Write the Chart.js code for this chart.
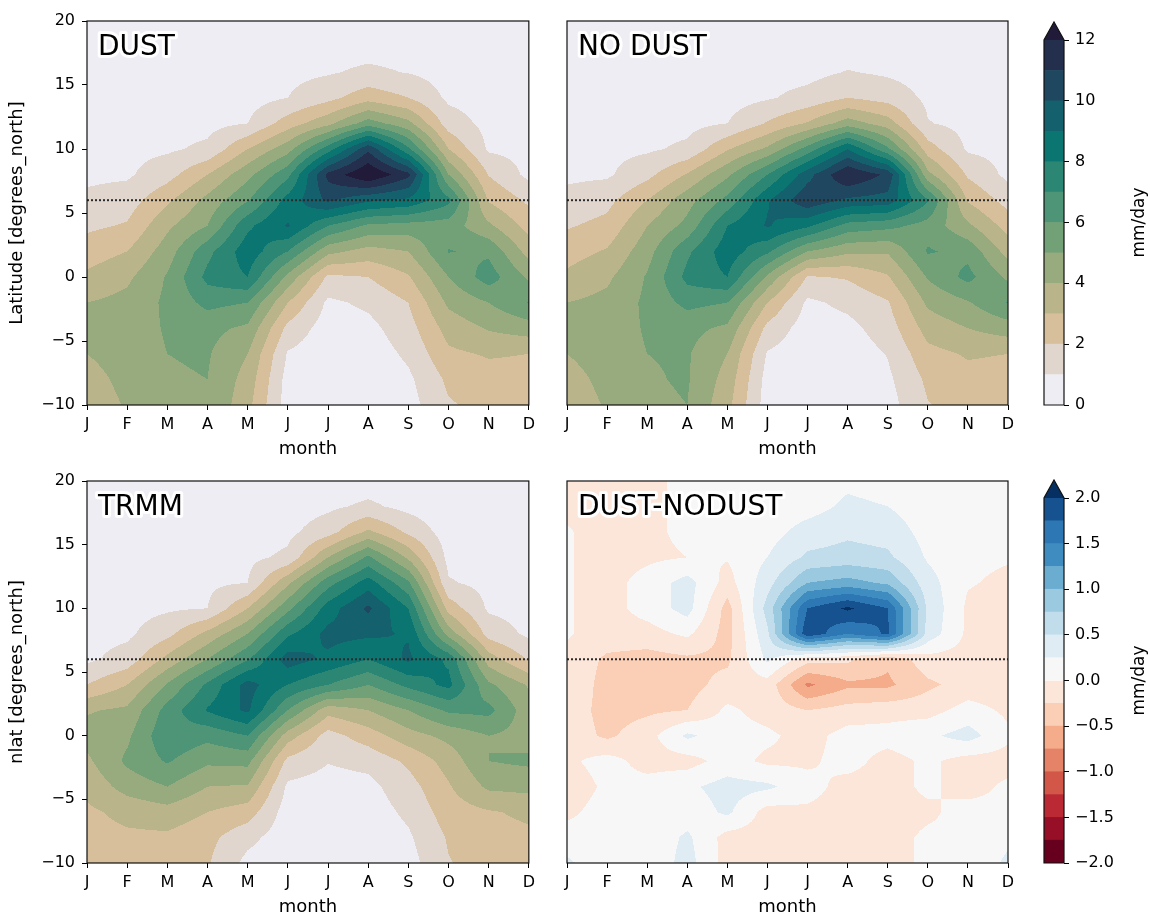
<!DOCTYPE html>
<html>
<head>
<meta charset="utf-8">
<script src="https://cdn.jsdelivr.net/npm/chart.js@4.4.1/dist/chart.umd.min.js"></script>
<style>
  body { margin: 0; background: #fff; width: 1150px; height: 918px; position: relative; overflow: hidden; }
  canvas { position: absolute; }
</style>
</head>
<body>
<canvas id="dust" width="540" height="460" style="left:0;top:0"></canvas>
<canvas id="nodust" width="500" height="460" style="left:540px;top:0"></canvas>
<canvas id="trmm" width="540" height="458" style="left:0;top:460px"></canvas>
<canvas id="diff" width="500" height="458" style="left:540px;top:460px"></canvas>
<canvas id="cbRain" width="110" height="460" style="left:1040px;top:0"></canvas>
<canvas id="cbDiff" width="110" height="458" style="left:1040px;top:460px"></canvas>
<script>
const monthLabels = ['J', 'F', 'M', 'A', 'M', 'J', 'J', 'A', 'S', 'O', 'N', 'D'];
const latitudes = [20, 18, 16, 14, 12, 10, 8, 6, 4, 2, 0, -2, -4, -6, -8, -10];
const dividerLat = 6;

const rainLevels = [0, 1, 2, 3, 4, 5, 6, 7, 8, 9, 10, 11, 12];
const diffLevels = [-2, -1.75, -1.5, -1.25, -1, -0.75, -0.5, -0.25, 0, 0.25, 0.5, 0.75, 1, 1.25, 1.5, 1.75, 2];

// mm/day, one row per latitude (20N down to 10S), one column per month
const dustRain = [
  [0.2, 0.2, 0.2, 0.25, 0.3, 0.35, 0.4, 0.3, 0.35, 0.3, 0.2, 0.2],
  [0.3, 0.3, 0.35, 0.4, 0.45, 0.5, 0.6, 0.6, 0.6, 0.45, 0.3, 0.3],
  [0.4, 0.4, 0.5, 0.55, 0.55, 0.75, 0.9, 1.2, 0.95, 0.6, 0.45, 0.4],
  [0.5, 0.55, 0.6, 0.6, 0.6, 1.0, 1.7, 2.6, 2.0, 0.8, 0.6, 0.5],
  [0.6, 0.65, 0.7, 0.7, 1.0, 2.5, 3.7, 5.5, 4.3, 1.5, 0.7, 0.6],
  [0.7, 0.75, 0.85, 1.2, 3.0, 4.6, 7.5, 10.8, 7.2, 3.0, 0.85, 0.7],
  [0.8, 0.85, 1.6, 3.0, 4.7, 6.7, 11.3, 13.0, 11.3, 5.0, 1.95, 0.75],
  [1.2, 1.5, 2.8, 4.3, 5.9, 8.4, 10.2, 9.2, 8.8, 7.3, 2.9, 1.8],
  [1.8, 2.1, 3.8, 5.0, 7.8, 9.1, 7.0, 5.8, 5.6, 5.5, 4.2, 2.6],
  [2.5, 3.0, 4.5, 6.7, 8.6, 7.0, 4.3, 3.6, 4.0, 6.05, 5.8, 3.6],
  [3.2, 3.8, 5.1, 7.3, 8.0, 4.7, 1.8, 2.0, 2.9, 5.0, 6.5, 4.8],
  [4.0, 4.3, 5.2, 6.3, 6.0, 3.0, 0.8, 1.2, 2.0, 4.2, 5.0, 6.05],
  [4.4, 4.5, 5.1, 5.3, 4.8, 1.7, 0.5, 0.7, 1.6, 3.4, 4.1, 4.5],
  [4.0, 4.5, 5.0, 5.1, 4.0, 0.9, 0.4, 0.4, 1.2, 2.8, 3.1, 3.0],
  [3.6, 4.3, 4.9, 5.0, 3.6, 0.6, 0.35, 0.3, 0.8, 2.2, 2.6, 2.6],
  [3.4, 4.1, 4.8, 5.0, 3.3, 0.5, 0.3, 0.3, 0.6, 1.9, 2.3, 2.4]
];

const noDustRain = [
  [0.2, 0.2, 0.2, 0.25, 0.3, 0.35, 0.4, 0.3, 0.35, 0.3, 0.2, 0.2],
  [0.3, 0.3, 0.35, 0.4, 0.45, 0.5, 0.55, 0.55, 0.55, 0.45, 0.3, 0.3],
  [0.4, 0.4, 0.5, 0.55, 0.55, 0.7, 0.7, 1.05, 0.85, 0.6, 0.45, 0.4],
  [0.5, 0.55, 0.6, 0.6, 0.6, 0.9, 1.3, 2.0, 1.6, 0.8, 0.6, 0.5],
  [0.6, 0.65, 0.7, 0.7, 1.0, 2.1, 3.1, 4.5, 3.5, 1.05, 0.7, 0.6],
  [0.7, 0.75, 0.85, 1.2, 2.9, 4.2, 6.4, 9.0, 6.2, 2.5, 0.85, 0.7],
  [0.8, 0.85, 1.7, 3.1, 4.8, 7.0, 9.6, 12.0, 10.8, 4.3, 1.85, 0.75],
  [1.3, 1.7, 3.0, 4.6, 6.3, 8.9, 10.8, 9.8, 9.6, 7.1, 2.9, 1.6],
  [1.9, 2.3, 4.0, 5.3, 8.0, 9.1, 8.2, 6.6, 6.3, 5.6, 4.2, 2.6],
  [2.6, 3.1, 4.6, 6.8, 8.6, 7.2, 5.0, 4.2, 4.1, 6.1, 5.7, 3.6],
  [3.2, 3.8, 5.1, 7.3, 8.0, 4.8, 1.9, 2.1, 2.9, 5.1, 6.3, 4.8],
  [4.0, 4.3, 5.2, 6.3, 6.0, 3.0, 0.8, 1.25, 1.9, 4.2, 4.9, 6.05],
  [4.4, 4.5, 5.1, 5.3, 4.8, 1.7, 0.5, 0.7, 1.5, 3.4, 4.0, 4.5],
  [4.0, 4.5, 5.0, 5.1, 4.0, 0.9, 0.4, 0.4, 1.05, 2.7, 3.1, 3.0],
  [3.6, 4.3, 4.9, 5.1, 3.6, 0.6, 0.35, 0.3, 0.8, 2.2, 2.7, 2.6],
  [3.4, 4.1, 4.8, 5.0, 3.3, 0.5, 0.3, 0.3, 0.6, 1.95, 2.4, 2.4]
];

const trmmRain = [
  [0.2, 0.2, 0.2, 0.25, 0.3, 0.35, 0.4, 0.5, 0.35, 0.25, 0.2, 0.2],
  [0.25, 0.25, 0.3, 0.35, 0.4, 0.5, 0.8, 1.2, 0.7, 0.35, 0.3, 0.3],
  [0.3, 0.3, 0.4, 0.5, 0.55, 0.75, 1.6, 3.2, 1.8, 0.5, 0.4, 0.35],
  [0.4, 0.45, 0.55, 0.65, 0.75, 1.2, 4.0, 6.2, 3.8, 0.7, 0.55, 0.45],
  [0.5, 0.55, 0.7, 0.8, 1.0, 3.8, 6.6, 8.5, 6.2, 1.1, 0.7, 0.55],
  [0.6, 0.65, 0.85, 1.0, 3.0, 5.7, 8.5, 10.2, 8.0, 2.6, 0.85, 0.65],
  [0.7, 0.8, 1.7, 3.3, 5.0, 7.8, 9.3, 9.2, 8.9, 4.6, 1.6, 0.8],
  [0.8, 1.4, 3.3, 5.0, 6.9, 9.5, 8.8, 8.0, 9.2, 7.8, 3.5, 1.9],
  [2.0, 3.0, 5.1, 7.2, 9.4, 8.0, 7.0, 6.0, 7.3, 8.3, 5.2, 3.9],
  [3.9, 4.2, 6.4, 8.1, 9.2, 6.0, 3.4, 4.0, 5.0, 6.2, 6.3, 4.4],
  [4.4, 4.8, 6.8, 6.3, 7.0, 3.5, 1.6, 2.5, 3.6, 4.3, 5.0, 4.6],
  [3.8, 5.2, 6.1, 5.2, 5.3, 1.7, 1.05, 1.3, 2.2, 3.4, 5.0, 5.2],
  [3.3, 4.4, 5.0, 4.0, 3.9, 0.8, 0.6, 0.7, 1.6, 2.9, 4.2, 4.3],
  [2.8, 3.3, 3.6, 3.0, 2.5, 0.5, 0.45, 0.5, 1.2, 2.5, 2.9, 3.2],
  [2.6, 2.8, 2.8, 2.3, 1.3, 0.4, 0.4, 0.4, 0.85, 2.1, 2.6, 2.8],
  [2.5, 2.6, 2.5, 2.1, 0.7, 0.35, 0.35, 0.35, 0.6, 1.95, 2.4, 2.6]
];

const dustMinusNoDust = [
  [-0.1, -0.1, -0.05, 0.05, 0.05, 0.05, 0.1, 0.2, 0.15, 0.05, 0.05, 0.05],
  [-0.05, -0.1, -0.05, 0.05, 0.05, 0.1, 0.15, 0.3, 0.25, 0.1, 0.05, 0.05],
  [0.02, -0.1, -0.05, 0.05, 0.05, 0.15, 0.35, 0.45, 0.4, 0.15, 0.05, 0.02],
  [0.02, -0.1, -0.05, 0.0, 0.02, 0.25, 0.55, 0.6, 0.55, 0.22, 0.05, 0.02],
  [0.02, -0.1, 0.1, 0.35, -0.1, 0.4, 1.0, 1.1, 0.95, 0.35, 0.02, -0.05],
  [0.02, -0.1, 0.1, 0.35, -0.35, 0.6, 1.75, 2.05, 1.75, 0.45, -0.05, -0.1],
  [0.02, -0.1, -0.1, 0.05, -0.35, 0.45, 1.95, 1.5, 1.8, 0.4, -0.05, -0.1],
  [-0.05, -0.3, -0.35, -0.3, -0.3, 0.3, -0.15, -0.2, -0.45, -0.1, -0.1, -0.1],
  [-0.05, -0.35, -0.4, -0.35, -0.15, -0.1, -0.8, -0.55, -0.55, -0.3, -0.15, -0.15],
  [-0.1, -0.35, -0.3, -0.25, 0.05, -0.1, -0.25, -0.15, -0.1, -0.1, 0.1, -0.05],
  [-0.1, -0.3, -0.1, 0.3, 0.1, 0.05, -0.1, 0.1, 0.1, 0.2, 0.35, 0.05],
  [-0.05, 0.1, -0.1, -0.1, 0.1, -0.05, -0.05, 0.1, -0.1, 0.05, -0.1, -0.1],
  [-0.15, 0.05, 0.1, 0.2, 0.35, 0.3, 0.1, -0.1, -0.1, 0.05, -0.1, 0.05],
  [-0.05, 0.1, 0.05, 0.1, 0.3, -0.1, -0.05, -0.1, -0.1, -0.05, 0.1, 0.05],
  [0.1, 0.05, 0.05, 0.3, -0.1, -0.1, -0.1, -0.05, -0.1, 0.05, 0.05, 0.2],
  [0.3, 0.05, 0.05, 0.35, -0.1, -0.1, -0.1, -0.05, -0.1, 0.05, 0.05, 0.3]
];

// one colour per band, last one is the "over" colour of the extend triangle
const rainColors = ['#eeedf3', '#e1d6cd', '#d8bf9c', '#bab48a', '#98ab7e', '#72a077', '#4e9477',
  '#2b8674', '#0b7571', '#14606d', '#1f475f', '#232f4c', '#211a39'];
const diffColors = ['#67001f', '#960f27', '#bb2a34', '#d25749', '#e58368', '#f5ac8b', '#fbceb6', '#fbe6d9',
  '#f7f7f7', '#dfecf3', '#c1ddec', '#9ac9e0', '#6bacd1', '#3f8dc0', '#2e77b5', '#175290', '#053061'];

const fontFamily = '"DejaVu Sans", sans-serif';
const tickFont = { family: fontFamily, size: 16 };
const labelFont = { family: fontFamily, size: 18 };
const minus = v => String(v).replace('-', '\u2212');

function hexRgb(h) {
  return [parseInt(h.slice(1, 3), 16), parseInt(h.slice(3, 5), 16), parseInt(h.slice(5, 7), 16)];
}

function sampleGrid(grid, m, lat) {
  const c = Math.max(0, Math.min(monthLabels.length - 1, m));
  const c0 = Math.min(Math.floor(c), monthLabels.length - 2);
  const fc = c - c0;
  let r = 0;
  while (r < latitudes.length - 2 && lat < latitudes[r + 1]) r++;
  let fr = (latitudes[r] - lat) / (latitudes[r] - latitudes[r + 1]);
  fr = Math.max(0, Math.min(1, fr));
  const top = grid[r][c0] * (1 - fc) + grid[r][c0 + 1] * fc;
  const bot = grid[r + 1][c0] * (1 - fc) + grid[r + 1][c0 + 1] * fc;
  return top * (1 - fr) + bot * fr;
}

// filled contours painted under the datasets, using the chart's own scales
function contourLayer(grid, levels, colors, label) {
  const rgb = colors.map(hexRgb);
  return {
    id: 'contour',
    beforeDatasetsDraw(chart) {
      const { ctx, chartArea: a, scales: { x, y } } = chart;
      const w = Math.round(a.right - a.left), h = Math.round(a.bottom - a.top);
      const off = document.createElement('canvas');
      off.width = w;
      off.height = h;
      const octx = off.getContext('2d');
      const img = octx.createImageData(w, h);
      const months = [];
      for (let i = 0; i < w; i++) months.push(x.getValueForPixel(a.left + i + 0.5));
      for (let j = 0; j < h; j++) {
        const lat = y.getValueForPixel(a.top + j + 0.5);
        for (let i = 0; i < w; i++) {
          const v = sampleGrid(grid, months[i], lat);
          let k = 0;
          while (k < levels.length - 1 && v >= levels[k + 1]) k++;
          const c = rgb[k];
          const p = (j * w + i) * 4;
          img.data[p] = c[0];
          img.data[p + 1] = c[1];
          img.data[p + 2] = c[2];
          img.data[p + 3] = 255;
        }
      }
      octx.putImageData(img, 0, 0);
      ctx.drawImage(off, a.left, a.top);
    },
    afterDraw(chart) {
      const { ctx, chartArea: a } = chart;
      ctx.save();
      ctx.strokeStyle = '#111';
      ctx.lineWidth = 1.2;
      ctx.strokeRect(a.left, a.top, a.right - a.left, a.bottom - a.top);
      ctx.font = '28px ' + fontFamily;
      ctx.textBaseline = 'alphabetic';
      ctx.lineJoin = 'round';
      ctx.lineWidth = 6;
      ctx.strokeStyle = '#fff';
      ctx.strokeText(label, a.left + 11, a.top + 34);
      ctx.fillStyle = '#000';
      ctx.fillText(label, a.left + 11, a.top + 34);
      ctx.restore();
    }
  };
}

function makePanel(id, grid, levels, colors, label, yTitle, padLeft, padRight) {
  return new Chart(document.getElementById(id), {
    type: 'scatter',
    data: {
      datasets: [{
        data: [{ x: 0, y: dividerLat }, { x: monthLabels.length - 1, y: dividerLat }],
        showLine: true,
        borderColor: '#2a2a2a',
        borderWidth: 2,
        borderDash: [2, 2],
        pointRadius: 0
      }]
    },
    options: {
      responsive: false,
      animation: false,
      layout: { padding: { top: 21, right: padRight, left: padLeft, bottom: 0 } },
      plugins: { legend: { display: false }, tooltip: { enabled: false } },
      scales: {
        x: {
          type: 'linear', min: 0, max: monthLabels.length - 1,
          ticks: { stepSize: 1, autoSkip: false, maxRotation: 0, padding: 5, color: '#000', font: tickFont,
            callback: v => monthLabels[v] },
          grid: { drawOnChartArea: false, tickLength: 5, color: '#000' },
          border: { display: false },
          title: { display: true, text: 'month', color: '#000', font: labelFont, padding: { top: 0, bottom: 0 } },
          afterFit: s => { s.height = 55; }
        },
        y: {
          type: 'linear', min: -10, max: 20, display: !!yTitle,
          ticks: { stepSize: 5, padding: 7, color: '#000', font: tickFont, callback: minus },
          grid: { drawOnChartArea: false, tickLength: 5, color: '#000' },
          border: { display: false },
          title: { display: !!yTitle, text: yTitle, color: '#000', font: labelFont, padding: { top: 7, bottom: 0 } },
          afterFit: s => { s.width = yTitle ? 87 : 0; }
        }
      }
    },
    plugins: [contourLayer(grid, levels, colors, label)]
  });
}

function colorbarFrame(overColor) {
  return {
    id: 'cbframe',
    afterDatasetsDraw(chart) {
      const { ctx, chartArea: a } = chart;
      const tip = 18;
      ctx.save();
      ctx.beginPath();
      ctx.moveTo(a.left, a.top);
      ctx.lineTo((a.left + a.right) / 2, a.top - tip);
      ctx.lineTo(a.right, a.top);
      ctx.closePath();
      ctx.fillStyle = overColor;
      ctx.fill();
      ctx.beginPath();
      ctx.moveTo(a.left, a.bottom);
      ctx.lineTo(a.left, a.top);
      ctx.lineTo((a.left + a.right) / 2, a.top - tip);
      ctx.lineTo(a.right, a.top);
      ctx.lineTo(a.right, a.bottom);
      ctx.closePath();
      ctx.strokeStyle = '#111';
      ctx.lineWidth = 1.2;
      ctx.stroke();
      ctx.translate(100, (a.top + a.bottom) / 2);
      ctx.rotate(-Math.PI / 2);
      ctx.font = '17px ' + fontFamily;
      ctx.fillStyle = '#000';
      ctx.textAlign = 'center';
      ctx.textBaseline = 'middle';
      ctx.fillText('mm/day', 0, 0);
      ctx.restore();
    }
  };
}

function makeColorbar(id, levels, colors, step, fmt, padTop) {
  const datasets = levels.slice(0, -1).map((lo, i) => ({
    data: [[lo, levels[i + 1]]],
    backgroundColor: colors[i],
    borderWidth: 0,
    grouped: false,
    barPercentage: 1,
    categoryPercentage: 1
  }));
  return new Chart(document.getElementById(id), {
    type: 'bar',
    data: { labels: [''], datasets },
    options: {
      responsive: false,
      animation: false,
      layout: { padding: { top: padTop, left: 4, right: 0, bottom: 55 } },
      plugins: { legend: { display: false }, tooltip: { enabled: false } },
      scales: {
        x: { display: false },
        y: {
          position: 'right', min: levels[0], max: levels[levels.length - 1],
          ticks: { stepSize: step, padding: 6, color: '#000', font: tickFont, callback: fmt },
          grid: { drawOnChartArea: false, tickLength: 5, color: '#000' },
          border: { display: false },
          afterFit: s => { s.width = 86; }
        }
      }
    },
    plugins: [colorbarFrame(colors[colors.length - 1])]
  });
}

makePanel('dust', dustRain, rainLevels, rainColors, 'DUST', 'Latitude [degrees_north]', 0, 11);
makePanel('nodust', noDustRain, rainLevels, rainColors, 'NO DUST', '', 27, 32);
makePanel('trmm', trmmRain, rainLevels, rainColors, 'TRMM', 'nlat [degrees_north]', 0, 11);
makePanel('diff', dustMinusNoDust, diffLevels, diffColors, 'DUST-NODUST', '', 27, 32);
makeColorbar('cbRain', rainLevels, rainColors, 2, v => String(v), 40);
makeColorbar('cbDiff', diffLevels, diffColors, 0.5, v => minus(v.toFixed(1)), 38);
</script>
</body>
</html>
